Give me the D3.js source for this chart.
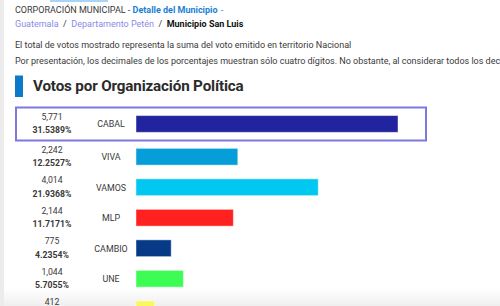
<!DOCTYPE html>
<html>
<head>
<meta charset="utf-8">
<script src="https://cdn.jsdelivr.net/npm/d3@7"></script>
<style>
  html, body { margin: 0; padding: 0; background: #fff; }
  #chart { width: 500px; height: 306px; overflow: hidden; }
  text { font-family: Roboto, "Liberation Sans", sans-serif; }
</style>
</head>
<body>
<div id="chart"></div>
<script>
// Votos por organización política, Municipio San Luis (Petén)
const parties = ["CABAL", "VIVA", "VAMOS", "MLP", "CAMBIO", "UNE", "VALOR"];
const votes = [5771, 2242, 4014, 2144, 775, 1044, 412];
const percents = ["31.5389%", "12.2527%", "21.9368%", "11.7171%", "4.2354%", "5.7055%", "2.2513%"];
const partyColors = ["#22249f", "#069ed8", "#00c8f0", "#ff2020", "#063a86", "#3dfd55", "#fbf75e"];
const highlighted = "CABAL";

const headerLine = "CORPORACIÓN MUNICIPAL - ";
const headerLink = "Detalle del Municipio";
const crumbs = ["Guatemala", "Departamento Petén"];
const crumbCurrent = "Municipio San Luis";
const notes = [
  "El total de votos mostrado representa la suma del voto emitido en territorio Nacional",
  "Por presentación, los decimales de los porcentajes muestran sólo cuatro dígitos. No obstante, al considerar todos los decimales, suman 100%."
];
const sectionTitle = "Votos por Organización Política";

function drawVotes(divId) {
  const width = 500, height = 306;
  const textColor = "#3a3a3a";

  const svg = d3.select(`#${divId}`)
    .append("svg")
    .attr("width", width)
    .attr("height", height);

  // soft shade near the bottom of the page
  const defs = svg.append("defs");
  const grad = defs.append("linearGradient")
    .attr("id", "bottomShade")
    .attr("x1", 0).attr("y1", 0).attr("x2", 0).attr("y2", 1);
  grad.append("stop").attr("offset", "0%").attr("stop-color", "#fff");
  grad.append("stop").attr("offset", "100%").attr("stop-color", "#efefef");

  svg.append("rect")
    .attr("x", 0).attr("y", 288)
    .attr("width", width).attr("height", height - 288)
    .attr("fill", "url(#bottomShade)");

  // page chrome on the left / top
  svg.append("rect")
    .attr("x", 0).attr("y", 0)
    .attr("width", 4).attr("height", height)
    .attr("fill", "#ececec");
  svg.append("rect")
    .attr("x", 50).attr("y", 0)
    .attr("width", 58).attr("height", 2)
    .attr("fill", "#a9d4f5");

  // header lines
  const h1 = svg.append("text")
    .attr("x", 15).attr("y", 12.7)
    .style("font-size", "9px")
    .attr("fill", textColor);
  h1.append("tspan").text(headerLine);
  h1.append("tspan").text(headerLink)
    .attr("fill", "#1a7fd4").style("font-weight", 700);
  h1.append("tspan").text(" -").attr("fill", "#1a7fd4").attr("dx", 1);

  const h2 = svg.append("text")
    .attr("x", 15).attr("y", 26.7)
    .style("font-size", "9px");
  crumbs.forEach((c, i) => {
    h2.append("tspan").text(c).attr("fill", "#8c8ae8").attr("dx", i ? 4.5 : 0);
    h2.append("tspan").text("/").attr("fill", textColor).attr("dx", 4.5);
  });
  h2.append("tspan").text(crumbCurrent)
    .attr("dx", 4.5)
    .attr("fill", "#111").style("font-weight", 700);

  svg.selectAll(".note")
    .data(notes)
    .join("text")
    .attr("class", "note")
    .attr("x", 15)
    .attr("y", (d, i) => 48.3 + i * 15.2)
    .style("font-size", "9px")
    .attr("fill", textColor)
    .text((d) => d);

  // section title with blue marker
  svg.append("rect")
    .attr("x", 15).attr("y", 75.5)
    .attr("width", 8).attr("height", 21.5)
    .attr("fill", "#0d79c9");
  svg.append("text")
    .attr("x", 33).attr("y", 91.4)
    .style("font-size", "15.2px")
    .style("font-weight", 700)
    .style("letter-spacing", "-0.15px")
    .attr("fill", "#2b2b2b")
    .text(sectionTitle);

  // scales
  const x = d3.scaleLinear()
    .domain([0, d3.max(votes)])
    .range([136, 398]);

  const y = d3.scaleBand()
    .domain(parties)
    .range([111, 111 + 30.5 * parties.length])
    .paddingInner(0.45)
    .paddingOuter(0.225);

  const rows = parties.map((p, i) => ({
    party: p,
    votes: votes[i],
    pct: percents[i],
    color: partyColors[i]
  }));

  // highlighted row is pulled up a bit inside its box
  const rowY = (d) => y(d.party) - (d.party === highlighted ? 2.3 : 0);
  const bh = y.bandwidth();

  // highlight box
  svg.append("rect")
    .attr("x", 16).attr("y", 107.5)
    .attr("width", 410).attr("height", 33)
    .attr("fill", "none")
    .attr("stroke", "#7d78e0")
    .attr("stroke-width", 2);

  const row = svg.selectAll(".row")
    .data(rows)
    .join("g")
    .attr("class", "row");

  row.append("rect")
    .attr("x", x(0))
    .attr("y", rowY)
    .attr("width", (d) => x(d.votes) - x(0))
    .attr("height", bh)
    .attr("fill", (d) => d.color)
    .attr("stroke", "rgba(255,255,255,0.45)")
    .attr("stroke-width", 1);

  row.append("text")
    .attr("x", 111)
    .attr("y", (d) => rowY(d) + bh / 2 + 3.3)
    .attr("text-anchor", "middle")
    .style("font-size", "8.9px")
    .attr("fill", textColor)
    .text((d) => d.party);

  row.append("text")
    .attr("x", 52)
    .attr("y", (d) => rowY(d) + bh / 2 - 4)
    .attr("text-anchor", "middle")
    .style("font-size", "8.7px")
    .attr("fill", textColor)
    .text((d) => d3.format(",")(d.votes));

  row.append("text")
    .attr("x", 52)
    .attr("y", (d) => rowY(d) + bh / 2 + 9.3)
    .attr("text-anchor", "middle")
    .style("font-size", "8.7px")
    .style("font-weight", 700)
    .attr("fill", textColor)
    .text((d) => d.pct);
}

drawVotes("chart");
</script>
</body>
</html>
